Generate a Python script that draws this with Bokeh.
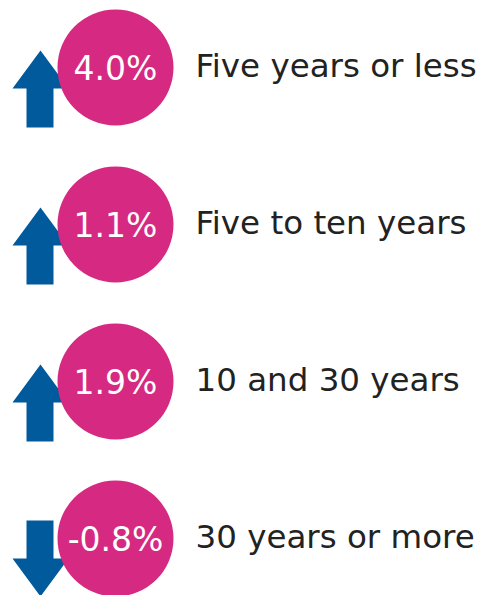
from bokeh.plotting import figure
from bokeh.models import Range1d, ColumnDataSource
from bokeh.core.properties import value
from bokeh.embed import file_html
from bokeh.resources import INLINE

# Data
categories = ["Five years or less", "Five to ten years", "10 and 30 years", "30 years or more"]
changes = [4.0, 1.1, 1.9, -0.8]
change_labels = ["4.0%", "1.1%", "1.9%", "-0.8%"]

PINK = "#D62A82"
BLUE = "#005A9C"

W, H = 491, 595
p = figure(width=W, height=H, output_backend="svg", toolbar_location=None,
           x_range=Range1d(0, W), y_range=Range1d(H, 0),
           min_border=0, outline_line_color=None)
p.axis.visible = False
p.grid.visible = False
p.background_fill_color = "white"
p.border_fill_color = "white"

row0, step = 67, 157
cys = [row0 + i * step for i in range(len(categories))]
cx = 115

# arrows
xs, ys = [], []
for cy, v in zip(cys, changes):
    sl, sr, hl, hr, mid = 26, 53, 12, 68, 40
    if v >= 0:
        tip, base, end = cy - 17, cy + 21, cy + 60
    else:
        tip, base, end = cy + 58, cy + 20, cy - 18
    xs.append([mid, hr, sr, sr, sl, sl, hl])
    ys.append([tip, base, base, end, end, base, base])
p.patches(xs, ys, fill_color=BLUE, line_color=None)

src = ColumnDataSource(dict(x=[cx] * len(cys), y=cys, lab=change_labels,
                            lx=[195] * len(cys), cat=categories,
                            ty=[c + 1 for c in cys], ly=[c - 2 for c in cys]))
p.circle(x="x", y="y", radius=58, source=src, fill_color=PINK, line_color=None)
p.text(x="x", y="ty", text="lab", source=src, text_align="center", text_baseline="middle",
       text_color="white", text_font=value("DejaVu Sans"), text_font_size="33px")
p.text(x="lx", y="ly", text="cat", source=src, text_align="left", text_baseline="middle",
       text_color="#222222", text_font=value("DejaVu Sans"), text_font_size="32.5px")

open("out.html", "w").write(file_html(p, INLINE))
